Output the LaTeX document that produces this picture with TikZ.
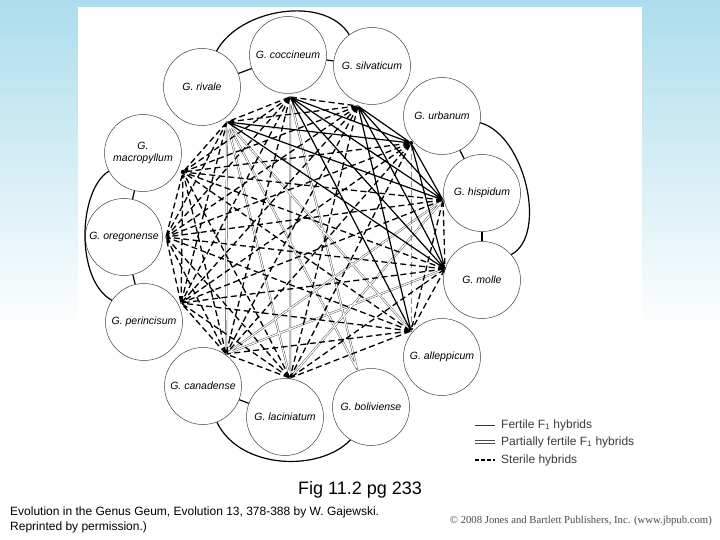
\documentclass[tikz,border=0pt]{standalone}
\usepackage{fontspec}
\setmainfont{Liberation Sans}
\newfontfamily\copyfont{Liberation Serif}
\usepackage{tikz}
\usetikzlibrary{positioning}
\definecolor{SlideBlue}{RGB}{172,221,236}
\definecolor{LegendGrey}{RGB}{60,60,60}

\begin{document}
\begin{tikzpicture}[x=1pt, y=-1pt,
  species/.style={draw=black!75, line width=0.5pt, circle, minimum size=77pt,
                  inner sep=0pt, align=center, font=\fontsize{10.5}{12}\selectfont\itshape},
  vtx/.style={circle, fill=black, inner sep=0pt, minimum size=1.6pt},
  fertile/.style={black, line width=1.2pt},
  partial/.style={black!75, double, double distance=1.2pt, line width=0.4pt},
  sterile/.style={black, line width=1.3pt, dash pattern=on 6pt off 3.5pt},
  faint/.style={black!45, line width=1pt, dash pattern=on 6pt off 3pt},
  link/.style={black, line width=1.2pt},
  legtxt/.style={font=\fontsize{12}{13}\selectfont, text=LegendGrey, inner sep=0pt},
]
\useasboundingbox (0,0) rectangle (720,540);
% slide background
\shade[top color=SlideBlue, bottom color=white] (0,0) rectangle (720,330);
\fill[white] (0,330) rectangle (720,540);
\fill[white] (78,7) rectangle (642,470);

% species
\node[species] (coc) at (288,55) {G. coccineum};
\node[species] (sil) at (372,66) {G. silvaticum};
\node[species] (riv) at (202,87) {G. rivale};
\node[species] (urb) at (442,116) {G. urbanum};
\node[species] (mac) at (143,153) {G.\\macropyllum};
\node[species] (his) at (482,193) {G. hispidum};
\node[species] (ore) at (124,237) {G. oregonense};
\node[species] (mol) at (482,280) {G. molle};
\node[species] (per) at (144,322) {G. perincisum};
\node[species] (alp) at (442,357) {G. alleppicum};
\node[species] (can) at (203,386) {G. canadense};
\node[species] (lac) at (285,417) {G. laciniatum};
\node[species] (bol) at (371,407) {G. boliviense};

% crossing points
\node[vtx] (vcoc) at (290,97) {};
\node[vtx] (vsil) at (358,106) {};
\node[vtx, minimum size=4pt] (vurb) at (411,143) {};
\node[vtx] (vhis) at (443,200) {};
\node[vtx] (vmol) at (445,269) {};
\node[vtx] (valp) at (411,331) {};
\node[vtx] (vbol) at (357,369) {};
\node[vtx] (vlac) at (290,378) {};
\node[vtx] (vcan) at (226,354) {};
\node[vtx] (vper) at (181,303) {};
\node[vtx] (vore) at (166,237) {};
\node[vtx, minimum size=4.5pt] (vmac) at (183,172) {};
\node[vtx] (vriv) at (227,122) {};

% groups
\draw[link] (riv) -- (coc);
\draw[link] (coc) -- (sil);
\draw[link] (urb) -- (his);
\draw[link] (his) -- (mol);
\draw[link] (mac) -- (ore);
\draw[link] (ore) -- (per);
\draw[link] (can) -- (lac);
\draw[link] (riv.68) .. controls (240,8) and (325,-5) .. (sil.126);
\draw[link] (urb.-10) .. controls (525,135) and (548,235) .. (mol.41);
\draw[link] (mac.208) .. controls (78,190) and (75,280) .. (per.146);
\draw[link] (can.-69) .. controls (240,470) and (320,472) .. (bol.-122);

% crosses
\draw[partial] (vriv) -- (vcan) (vriv) -- (vlac) (vriv) -- (vbol) (vriv) -- (valp)
  (vcoc) -- (vlac) (vcoc) -- (vbol) (vhis) -- (vcan) (vhis) -- (vlac) (vmol) -- (vcan);
\draw[faint] (vurb) -- (valp);
\draw[fertile] (vriv) -- (vurb) (vriv) -- (vhis) (vriv) -- (vmol)
  (vcoc) -- (vurb) (vcoc) -- (vhis) (vcoc) -- (vmol) (vcoc) -- (valp)
  (vsil) -- (vurb) (vsil) -- (vhis) (vsil) -- (vmol) (vsil) -- (valp)
  (vurb) -- (vhis) (vurb) -- (vmol);
\draw[sterile] (vcoc) -- (vsil) (vcoc) -- (vcan) (vcoc) -- (vper) (vcoc) -- (vore)
  (vcoc) -- (vmac) (vcoc) -- (vriv)
  (vsil) -- (vlac) (vsil) -- (vcan) (vsil) -- (vper) (vsil) -- (vore) (vsil) -- (vmac)
  (vsil) -- (vriv)
  (vurb) -- (vlac) (vurb) -- (vcan) (vurb) -- (vper) (vurb) -- (vore) (vurb) -- (vmac)
  (vhis) -- (vmol) (vhis) -- (valp) (vhis) -- (vper) (vhis) -- (vore) (vhis) -- (vmac)
  (vmol) -- (valp) (vmol) -- (vlac) (vmol) -- (vper) (vmol) -- (vore) (vmol) -- (vmac)
  (valp) -- (vlac) (valp) -- (vcan) (valp) -- (vper) (valp) -- (vore) (valp) -- (vmac)
  (vlac) -- (vcan) (vlac) -- (vper) (vlac) -- (vore) (vlac) -- (vmac)
  (vcan) -- (vper) (vcan) -- (vore) (vcan) -- (vmac)
  (vper) -- (vore) (vper) -- (vmac) (vper) -- (vriv)
  (vore) -- (vmac) (vore) -- (vriv)
  (vmac) -- (vriv);

% legend
\coordinate (lg1a) at (475,425); \coordinate (lg1b) at (495,425);
\coordinate (lg2a) at (475,442); \coordinate (lg2b) at (495,442);
\coordinate (lg3a) at (475,460); \coordinate (lg3b) at (495,460);
\draw[black!80, line width=0.8pt] (lg1a) -- (lg1b);
\draw[black!70, line width=0.8pt] ([yshift=1.2pt]lg2a) -- ([yshift=1.2pt]lg2b)
  ([yshift=-1.2pt]lg2a) -- ([yshift=-1.2pt]lg2b);
\draw[sterile, dash pattern=on 4pt off 2pt] (lg3a) -- (lg3b);
\node[legtxt, right=6pt of lg1b] (lg1t) {Fertile F\textsubscript{1} hybrids};
\node[legtxt, right=6pt of lg2b] (lg2t) {Partially fertile F\textsubscript{1} hybrids};
\node[legtxt, right=6pt of lg3b] (lg3t) {Sterile hybrids};

% caption
\node[font=\fontsize{18}{20}\selectfont] (cap) at (360,490) {Fig 11.2 pg 233};
\node[anchor=west, align=left, inner sep=0pt, font=\fontsize{12}{15}\selectfont] (src) at (10,520)
  {Evolution in the Genus Geum, Evolution 13, 378-388 by W. Gajewski.\\Reprinted by permission.)};
\node[anchor=east, inner sep=0pt, text=black!70, font=\copyfont\fontsize{10.7}{12}\selectfont] (pub) at (712,521)
  {© 2008 Jones and Bartlett Publishers, Inc. (www.jbpub.com)};
\end{tikzpicture}
\end{document}
